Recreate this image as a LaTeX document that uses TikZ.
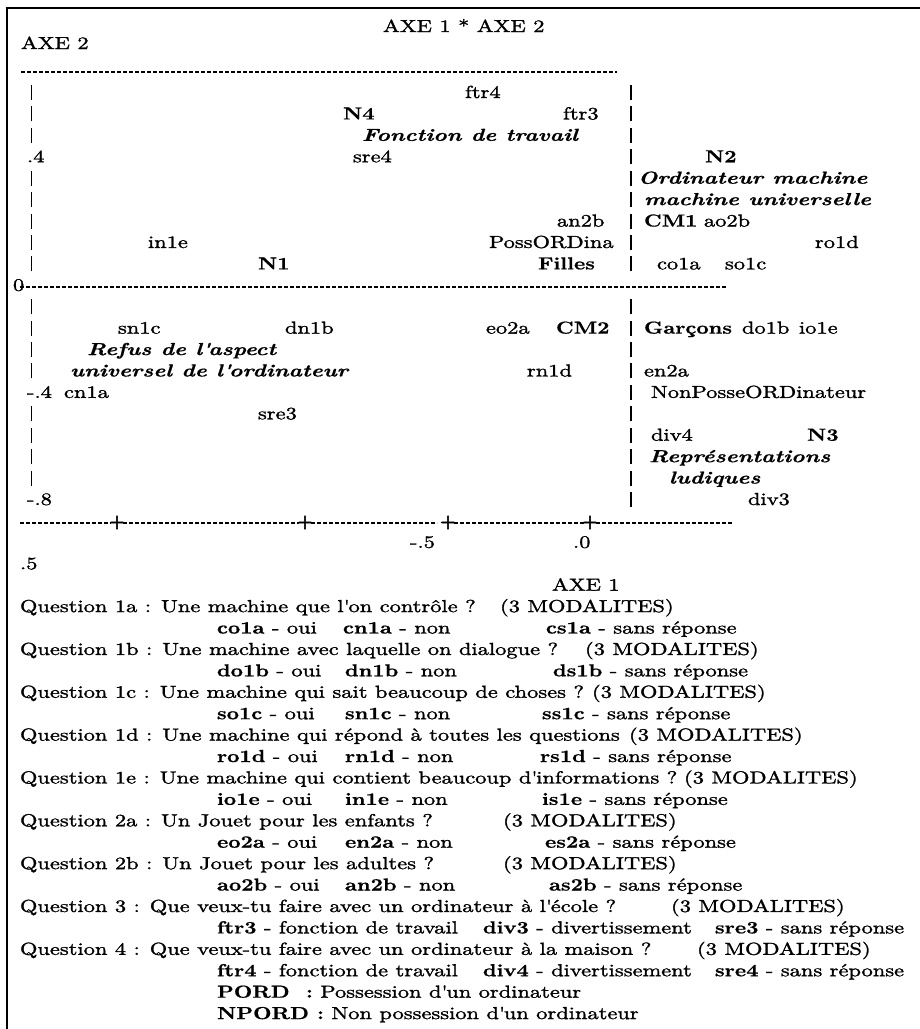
\documentclass[tikz,border=0pt]{standalone}
\usepackage{fontspec}
\setmainfont{lmroman10}[Extension=.otf, UprightFont=*-regular, BoldFont=*-bold, ItalicFont=*-italic, BoldItalicFont=*-bolditalic,
  UprightFeatures={FakeStretch=1.29, FakeBold=1.5},
  BoldFeatures={FakeStretch=1.23, FakeBold=0.8},
  ItalicFeatures={FakeStretch=1.29},
  BoldItalicFeatures={FakeStretch=1.30, FakeBold=0.8}]
\newfontfamily\plusfont{lmroman10-bold}[Extension=.otf, FakeBold=2.5]
\newcommand\rowY[1]{98+21.42*(#1)}
\newcommand\ap{\textquotesingle}
\tikzset{
  txt/.style={inner sep=0pt, outer sep=0pt, anchor=base west, font=\fontsize{17.4}{20}\selectfont},
  bld/.style={txt, font=\fontsize{17.4}{20}\selectfont\bfseries},
  bit/.style={txt, font=\fontsize{17.4}{20}\selectfont\bfseries\itshape},
  plus/.style={inner sep=0pt, outer sep=0pt, anchor=center, font=\plusfont\fontsize{18}{19}\selectfont},
  vbar/.style={line width=1.1pt},
  hdash/.style={line width=1.2pt, dash pattern=on 3.8pt off 2.2pt},
  frame/.style={line width=2.2pt}
}
\begin{document}
\begin{tikzpicture}[x=1pt,y=-1pt]
\useasboundingbox (0,0) rectangle (920,1029);
% frame
\draw[frame] (5.6,7.9) -- (920,7.9);
\draw[frame] (6.7,7.9) -- (6.7,1029);
% header
\node[txt] (title) at (383,32) {AXE 1 * AXE 2};
\node[txt] (axe2) at (21,49) {AXE 2};
\draw[hdash] (21,72) -- (617,72);
% vertical axis bars
\foreach \k in {0,1,2,4,5,6,7,8,10,11,12,13,15,16,17,18}
  \draw[vbar] (31.7,{\rowY{\k}+2}) -- (31.7,{\rowY{\k}-13});
\foreach \k in {0,1,2,3,4,5,6,7,8,10,11,12,13,14,15,16,17,18,19}
  \draw[vbar] (631,{\rowY{\k}+2}) -- (631,{\rowY{\k}-13});
% plot texts
\node[txt] (ftr4) at (465,{\rowY{0}}) {ftr4};
\node[bld] (n4) at (343,{\rowY{1}}) {N4};
\node[txt] (ftr3) at (563,{\rowY{1}}) {ftr3};
\node[bit] (fonction) at (362,{\rowY{2}}) {Fonction de travail};
\node[txt] (y04) at (27,{\rowY{3}}) {.4};
\node[txt] (sre4) at (353,{\rowY{3}}) {sre4};
\node[bld] (n2) at (705,{\rowY{3}}) {N2};
\node[bit] (ordi) at (638,{\rowY{4}}) {Ordinateur machine};
\node[bit] (univ) at (644,{\rowY{5}}) {machine universelle};
\node[txt] (an2b) at (557,{\rowY{6}}) {an2b};
\node[bld] (cm1) at (644,{\rowY{6}}) {CM1};
\node[txt] (ao2b) at (704,{\rowY{6}}) {ao2b};
\node[txt] (in1e) at (148,{\rowY{7}}) {in1e};
\node[txt] (poss) at (489,{\rowY{7}}) {PossORDina};
\node[txt] (ro1d) at (815,{\rowY{7}}) {ro1d};
\node[bld] (n1) at (258,{\rowY{8}}) {N1};
\node[bld] (filles) at (538,{\rowY{8}}) {Filles};
\node[txt] (co1a) at (657,{\rowY{8}}) {co1a};
\node[txt] (so1c) at (725,{\rowY{8}}) {so1c};
\node[txt] (y0) at (13,{\rowY{9}}) {0};
\draw[hdash] (20,287) -- (727,287);
\node[txt] (sn1c) at (118,{\rowY{11}}) {sn1c};
\node[txt] (dn1b) at (285,{\rowY{11}}) {dn1b};
\node[txt] (eo2a) at (486,{\rowY{11}}) {eo2a};
\node[bld] (cm2) at (556,{\rowY{11}}) {CM2};
\node[bld] (garcons) at (644,{\rowY{11}}) {Garçons};
\node[txt] (do1b) at (742,{\rowY{11}}) {do1b};
\node[txt] (io1e) at (799,{\rowY{11}}) {io1e};
\node[bit] (refus) at (87,{\rowY{12}}) {Refus de l\ap aspect};
\node[bit] (universel) at (70,{\rowY{13}}) {universel de l\ap ordinateur};
\node[txt] (rn1d) at (527,{\rowY{13}}) {rn1d};
\node[txt] (en2a) at (644,{\rowY{13}}) {en2a};
\node[txt] (ym04) at (27,{\rowY{14}}) {-.4};
\node[txt] (cn1a) at (64,{\rowY{14}}) {cn1a};
\node[txt] (nonposse) at (651,{\rowY{14}}) {NonPosseORDinateur};
\node[txt] (sre3) at (258,{\rowY{15}}) {sre3};
\node[txt] (div4) at (651,{\rowY{16}}) {div4};
\node[bld] (n3) at (807,{\rowY{16}}) {N3};
\node[bit] (repr) at (649,{\rowY{17}}) {Représentations};
\node[bit] (ludiques) at (669,{\rowY{18}}) {ludiques};
\node[txt] (ym08) at (27,{\rowY{19}}) {-.8};
\node[txt] (div3) at (748,{\rowY{19}}) {div3};
% horizontal axis
\draw[hdash] (20,523) -- (111,523);
\draw[hdash] (123,523) -- (299,523);
\draw[hdash] (311,523) -- (437,523);
\draw[hdash] (454,523) -- (584,523);
\draw[hdash] (596,523) -- (732,523);
\node[plus] (p1) at (117,522.5) {+};
\node[plus] (p2) at (305,522.5) {+};
\node[plus] (p3) at (448,522.5) {+};
\node[plus] (p4) at (590,522.5) {+};
\node[txt] (xm05) at (410,{\rowY{21}}) {-.5};
\node[txt] (x00) at (573,{\rowY{21}}) {.0};
\node[txt] (x05) at (20,{\rowY{22}}) {.5};
\node[txt] (axe1) at (552,{\rowY{23}}) {AXE 1};
% legend
\node[txt] (q1a) at (20,{\rowY{24}}) {Question 1a : Une machine que l\ap on contrôle ?};
\node[txt] (q1am) at (500,{\rowY{24}}) {(3 MODALITES)};
\node[txt] (r1a1) at (217,{\rowY{25}}) {\textbf{co1a} - oui};
\node[txt] (r1a2) at (343,{\rowY{25}}) {\textbf{cn1a} - non};
\node[txt] (r1a3) at (546,{\rowY{25}}) {\textbf{cs1a} - sans réponse};
\node[txt] (q1b) at (20,{\rowY{26}}) {Question 1b : Une machine avec laquelle on dialogue ?};
\node[txt] (q1bm) at (585,{\rowY{26}}) {(3 MODALITES)};
\node[txt] (r1b1) at (217,{\rowY{27}}) {\textbf{do1b} - oui};
\node[txt] (r1b2) at (345,{\rowY{27}}) {\textbf{dn1b} - non};
\node[txt] (r1b3) at (553,{\rowY{27}}) {\textbf{ds1b} - sans réponse};
\node[txt] (q1c) at (20,{\rowY{28}}) {Question 1c : Une machine qui sait beaucoup de choses ?};
\node[txt] (q1cm) at (592,{\rowY{28}}) {(3 MODALITES)};
\node[txt] (r1c1) at (217,{\rowY{29}}) {\textbf{so1c} - oui};
\node[txt] (r1c2) at (345,{\rowY{29}}) {\textbf{sn1c} - non};
\node[txt] (r1c3) at (542,{\rowY{29}}) {\textbf{ss1c} - sans réponse};
\node[txt] (q1d) at (20,{\rowY{30}}) {Question 1d : Une machine qui répond à toutes les questions};
\node[txt] (q1dm) at (629,{\rowY{30}}) {(3 MODALITES)};
\node[txt] (r1d1) at (217,{\rowY{31}}) {\textbf{ro1d} - oui};
\node[txt] (r1d2) at (345,{\rowY{31}}) {\textbf{rn1d} - non};
\node[txt] (r1d3) at (540,{\rowY{31}}) {\textbf{rs1d} - sans réponse};
\node[txt] (q1e) at (20,{\rowY{32}}) {Question 1e : Une machine qui contient beaucoup d\ap informations ?};
\node[txt] (q1em) at (684,{\rowY{32}}) {(3 MODALITES)};
\node[txt] (r1e1) at (217,{\rowY{33}}) {\textbf{io1e} - oui};
\node[txt] (r1e2) at (345,{\rowY{33}}) {\textbf{in1e} - non};
\node[txt] (r1e3) at (542,{\rowY{33}}) {\textbf{is1e} - sans réponse};
\node[txt] (q2a) at (20,{\rowY{34}}) {Question 2a : Un Jouet pour les enfants ?};
\node[txt] (q2am) at (503,{\rowY{34}}) {(3 MODALITES)};
\node[txt] (r2a1) at (217,{\rowY{35}}) {\textbf{eo2a} - oui};
\node[txt] (r2a2) at (345,{\rowY{35}}) {\textbf{en2a} - non};
\node[txt] (r2a3) at (545,{\rowY{35}}) {\textbf{es2a} - sans réponse};
\node[txt] (q2b) at (20,{\rowY{36}}) {Question 2b : Un Jouet pour les adultes ?};
\node[txt] (q2bm) at (503,{\rowY{36}}) {(3 MODALITES)};
\node[txt] (r2b1) at (217,{\rowY{37}}) {\textbf{ao2b} - oui};
\node[txt] (r2b2) at (345,{\rowY{37}}) {\textbf{an2b} - non};
\node[txt] (r2b3) at (549,{\rowY{37}}) {\textbf{as2b} - sans réponse};
\node[txt] (q3) at (20,{\rowY{38}}) {Question 3 : Que veux-tu faire avec un ordinateur à l\ap école ?};
\node[txt] (q3m) at (671,{\rowY{38}}) {(3 MODALITES)};
\node[txt] (r31) at (217,{\rowY{39}}) {\textbf{ftr3} - fonction de travail};
\node[txt] (r32) at (483,{\rowY{39}}) {\textbf{div3} - divertissement};
\node[txt] (r33) at (715,{\rowY{39}}) {\textbf{sre3} - sans réponse};
\node[txt] (q4) at (20,{\rowY{40}}) {Question 4 : Que veux-tu faire avec un ordinateur à la maison ?};
\node[txt] (q4m) at (697,{\rowY{40}}) {(3 MODALITES)};
\node[txt] (r41) at (217,{\rowY{41}}) {\textbf{ftr4} - fonction de travail};
\node[txt] (r42) at (483,{\rowY{41}}) {\textbf{div4} - divertissement};
\node[txt] (r43) at (715,{\rowY{41}}) {\textbf{sre4} - sans réponse};
\node[txt] (pord) at (217,{\rowY{42}}) {\textbf{PORD~ :} Possession d\ap un ordinateur};
\node[txt] (npord) at (217,{\rowY{43}}) {\textbf{NPORD :} Non possession d\ap un ordinateur};
\end{tikzpicture}
\end{document}
